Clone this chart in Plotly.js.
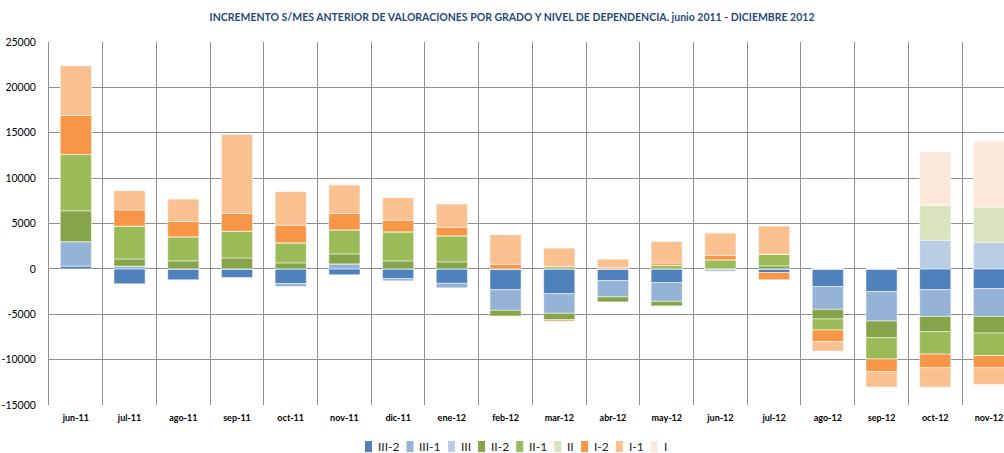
<!DOCTYPE html>
<html>
<head>
<meta charset="utf-8">
<script src="https://cdn.plot.ly/plotly-3.0.1.min.js"></script>
<style>
html,body{margin:0;padding:0;background:#fff;}
#chart{width:1004px;height:453px;}
</style>
</head>
<body>
<div id="chart"></div>
<script>
// ---- data ----
const months = ['jun-11','jul-11','ago-11','sep-11','oct-11','nov-11','dic-11','ene-12','feb-12','mar-12','abr-12','may-12','jun-12','jul-12','ago-12','sep-12','oct-12','nov-12'];
const seriesNames = ['III-2','III-1','III','II-2','II-1','II','I-2','I-1','I'];
const s_III_2 = [300,-1650,-1200,-950,-1620,-650,-1070,-1590,-2290,-2730,-1290,-1510,0,-400,-1950,-2500,-2290,-2180];
const s_III_1 = [2700,300,0,0,-330,550,-250,-500,-2280,-2170,-1800,-2070,-250,0,-2510,-3240,-2950,-3060];
const s_III   = [0,0,0,0,0,0,0,0,0,0,0,0,0,0,0,0,3160,2940];
const s_II_2  = [3400,800,880,1200,660,1100,880,770,-620,-700,-550,-500,0,330,-1060,-1840,-1690,-1830];
const s_II_1  = [6200,3600,2650,2950,2210,2650,3200,2870,0,250,0,400,990,1280,-1210,-2350,-2460,-2470];
const s_II    = [0,0,0,0,0,0,0,0,0,0,0,0,0,0,0,0,3860,3860];
const s_I_2   = [4300,1800,1690,1950,1940,1800,1280,950,500,-150,150,250,510,-800,-1290,-1400,-1510,-1360];
const s_I_1   = [5500,2130,2500,8750,3750,3170,2500,2580,3280,2070,950,2400,2470,3135,-1030,-1690,-2130,-1840];
const s_I     = [0,0,0,0,0,0,0,0,0,0,0,0,0,0,0,0,5900,7250];
const seriesValues = [s_III_2,s_III_1,s_III,s_II_2,s_II_1,s_II,s_I_2,s_I_1,s_I];
const yTicks = [-15000,-10000,-5000,0,5000,10000,15000,20000,25000];
const titleText = 'INCREMENTO S/MES ANTERIOR DE VALORACIONES POR GRADO Y NIVEL DE DEPENDENCIA. junio 2011 - DICIEMBRE 2012';

// ---- styling ----
const colors = ['#4F81BD','#95B3D7','#B9CDE5','#86A44A','#9BBB59','#D7E4BD','#F79646','#FAC090','#FDE9D9'];
const W=1004, H=453, L=49, R=0, T=42, B=48;
const pw=W-L-R, ph=H-T-B;
const px2x = px => (px-L)/pw;
const py2y = py => (H-B-py)/ph;
const FONT='Lato, "Open Sans", sans-serif';

const traces = seriesNames.map((n,i)=>({
  type:'bar', name:n, x:months, y:seriesValues[i],
  marker:{color:colors[i], line:{color:'rgba(255,255,255,0.5)', width:1}},
  width:0.58, hoverinfo:'skip', showlegend:false
}));

// custom legend (names from seriesNames, colours from colors)
const shapes=[], annotations=[];
const cv=document.createElement('canvas').getContext('2d');
cv.font='12px Lato';
let cx=365;
seriesNames.forEach((n,i)=>{
  shapes.push({type:'rect', xref:'paper', yref:'paper', x0:px2x(cx), x1:px2x(cx+7), y0:py2y(452), y1:py2y(441), fillcolor:colors[i], line:{width:0}});
  annotations.push({xref:'paper', yref:'paper', x:px2x(cx+11), y:py2y(446.5), xanchor:'left', yanchor:'middle', text:n, showarrow:false, font:{family:FONT, size:12, color:'#222'}});
  cx += 11 + cv.measureText(n).width + 9;
});

const layout = {
  width:W, height:H,
  margin:{l:L, r:R, t:T, b:B, pad:0},
  paper_bgcolor:'#fff', plot_bgcolor:'#fff',
  barmode:'relative',
  showlegend:false,
  title:{text:titleText, x:512/W, xanchor:'center', xref:'container', y:1-17/H, yanchor:'middle', yref:'container',
         font:{family:FONT, size:10.5, weight:700, color:'#1F497D'}},
  xaxis:{type:'category', range:[-0.5, 17.28], tickson:'boundaries', showgrid:true, gridcolor:'#8f8f8f', gridwidth:1,
         ticks:'', ticklabelstandoff:6, tickfont:{family:FONT, size:9, weight:700, color:'#000'}, showline:false, zeroline:false, fixedrange:true},
  yaxis:{range:[-15000,25000], tickmode:'array', tickvals:yTicks, ticktext:yTicks.map(v=>String(v)),
         showgrid:true, gridcolor:'#8f8f8f', gridwidth:1,
         zeroline:true, zerolinecolor:'#8f8f8f', zerolinewidth:1, showline:true, linecolor:'#8f8f8f', linewidth:1,
         ticks:'', ticklabelstandoff:10, tickfont:{family:FONT, size:10.5, color:'#000'}, fixedrange:true},
  shapes:shapes, annotations:annotations
};
Plotly.newPlot('chart', traces, layout, {staticPlot:true, displayModeBar:false});
</script>
</body>
</html>
